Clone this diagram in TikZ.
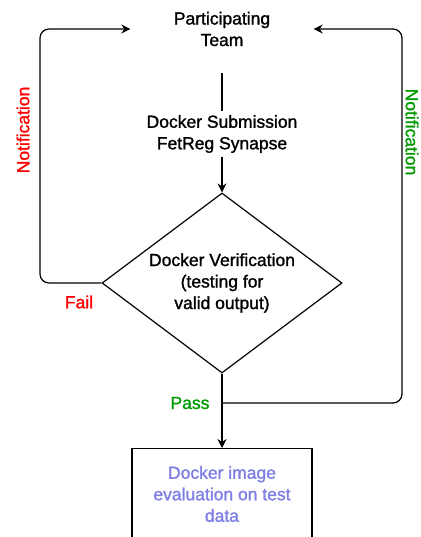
\documentclass[tikz,border=0pt]{standalone}
\usepackage{fontspec}
\setmainfont{Liberation Sans}[RawFeature={embolden=1.3}]
\usetikzlibrary{shapes.geometric,arrows.meta}
\definecolor{failred}{RGB}{255,0,0}
\definecolor{passgreen}{RGB}{0,153,0}
\definecolor{evalblue}{RGB}{126,126,228}
\begin{document}
\begin{tikzpicture}[x=1pt,y=-1pt,
  every node/.style={font=\fontsize{17.5}{21.5}\selectfont, align=center, inner sep=0pt},
  conn/.style={line width=1.2pt, draw=black},
  arr/.style={conn, -{Stealth[length=9pt,width=9pt,inset=3pt]}},
  loop/.style={conn, rounded corners=9pt, -{Stealth[length=9pt,width=9pt,inset=3pt]}}]
\useasboundingbox (0,0) rectangle (420,537);
\clip (0,0) rectangle (420,537);
\node[minimum width=183pt, minimum height=88pt] (team) at (222,29) {Participating\\Team};
\node[minimum height=45pt] (sub) at (222,134) {Docker Submission\\FetReg Synapse};
\node[diamond, draw, line width=1.2pt, minimum width=240pt, minimum height=180pt] (dia) at (222,283) {};
\node (ver) at (222,283) {Docker Verification\\(testing for\\valid output)};
\node[draw, line width=1.2pt, anchor=north, minimum width=180pt, minimum height=150pt] (evalbox) at (222,448) {};
\node[text=evalblue] (evaltxt) at (222,494) {Docker image\\evaluation on test\\data};
\coordinate (lb) at (40,283);
\coordinate (lt) at (40,29);
\coordinate (pass) at (222,403);
\coordinate (rb) at (402,403);
\coordinate (rt) at (402,29);
\draw[conn] (team.south) -- (sub.north);
\draw[arr] (sub.south) -- (dia.north);
\draw[arr] (dia.south) -- (evalbox.north);
\draw[loop] (dia.west) -- (lb) -- (lt) -- (team.west);
\draw[loop] (pass) -- (rb) -- (rt) -- (team.east);
\node[text=failred] (fail) at (79,302) {Fail};
\node[text=passgreen] (passlbl) at (190,403) {Pass};
\node[text=failred, rotate=90] (notl) at (23,130) {Notification};
\node[text=passgreen, rotate=-90] (notr) at (412,132) {Notification};
\end{tikzpicture}
\end{document}
